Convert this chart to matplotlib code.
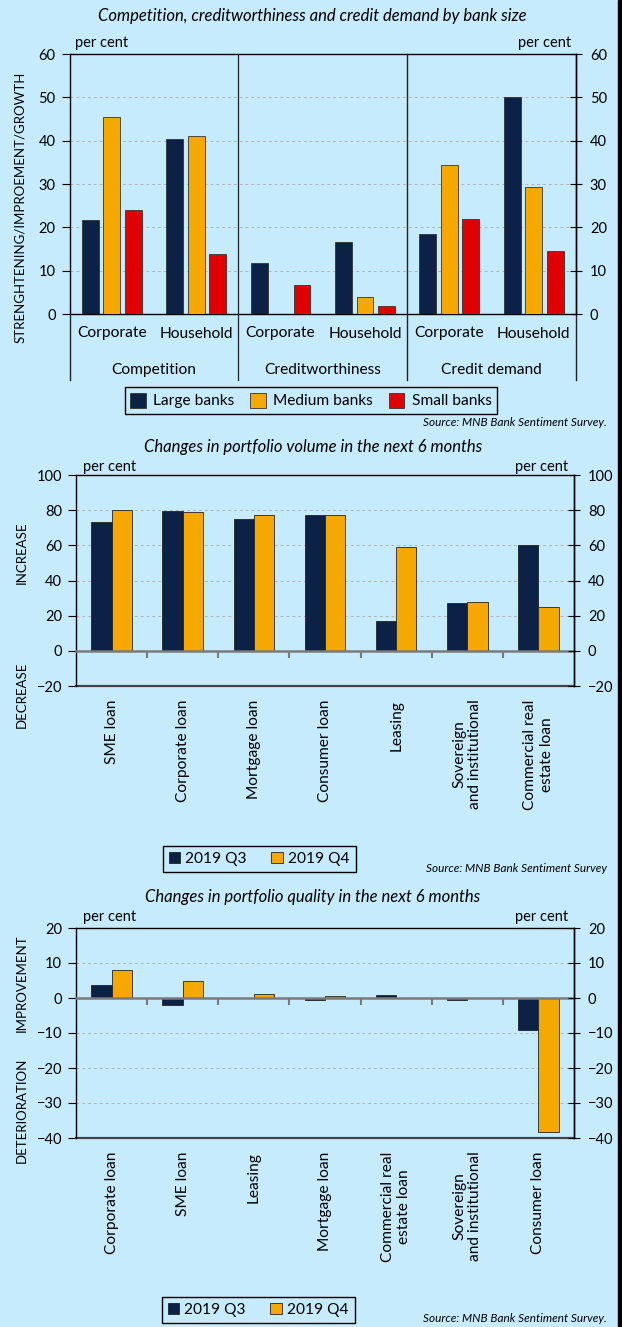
import matplotlib.pyplot as plt
import matplotlib.transforms as mtransforms
import numpy as np

plt.rcParams['font.family'] = ['Lato', 'DejaVu Sans']

# Panel 1: competition, creditworthiness, credit demand by bank size
groups = ['Competition', 'Creditworthiness', 'Credit demand']
subcats = ['Corporate', 'Household', 'Corporate', 'Household', 'Corporate', 'Household']
large_banks = [21.7, 40.3, 11.8, 16.7, 18.4, 50.0]
medium_banks = [45.5, 41.0, 0.0, 3.9, 34.4, 29.3]
small_banks = [24.0, 13.9, 6.8, 1.8, 22.0, 14.6]

# Panel 2: portfolio volume
vol_cats = ['SME loan', 'Corporate loan', 'Mortgage loan', 'Consumer loan', 'Leasing',
            'Sovereign\nand institutional', 'Commercial real\nestate loan']
vol_q3 = [73.0, 79.7, 74.8, 77.1, 16.9, 27.2, 60.0]
vol_q4 = [80.0, 78.8, 77.4, 77.4, 59.0, 27.7, 25.0]

# Panel 3: portfolio quality
qual_cats = ['Corporate loan', 'SME loan', 'Leasing', 'Mortgage loan',
             'Commercial real\nestate loan', 'Sovereign\nand institutional', 'Consumer loan']
qual_q3 = [3.7, -2.1, 0.0, -0.5, 0.8, -0.7, -9.1]
qual_q4 = [8.0, 4.8, 1.1, 0.5, 0.0, 0.0, -38.2]

BG = '#c6ebfd'
NAVY = '#0c2145'
ORANGE = '#f5a800'
RED = '#e00000'
GRID = '#b4b4b4'
FS = 10.5      # tick labels
CFS = 11.2     # category labels
TFS = 12       # titles
SFS = 8.5      # source notes

W, H = 622, 1327
fig = plt.figure(figsize=(W / 100, H / 100), dpi=100, facecolor=BG)


def px_axes(left, top, right, bottom):
    a = fig.add_axes([left / W, 1 - bottom / H, (right - left) / W, (bottom - top) / H])
    a.set_facecolor(BG)
    return a


def ftext(x, y, s, **kw):
    fig.text(x / W, 1 - y / H, s, **kw)


def right_axis(ax, ticks):
    r = ax.twinx()
    r.set_ylim(ax.get_ylim())
    r.set_yticks(ticks)
    r.tick_params(axis='y', direction='inout', length=8, labelsize=FS, pad=6)
    for s in r.spines.values():
        s.set_visible(False)
    r.spines['right'].set_visible(True)
    r.spines['right'].set_linewidth(1.0)
    return r


# ---------------- Panel 1 ----------------
ax1 = px_axes(69.5, 54, 576, 314)
x = np.arange(len(subcats))
off, bw = 0.254, 0.2
ax1.bar(x - off, large_banks, bw, color=NAVY, edgecolor='#333333', lw=0.6, label='Large banks', zorder=3)
ax1.bar(x, medium_banks, bw, color=ORANGE, edgecolor='#333333', lw=0.6, label='Medium banks', zorder=3)
ax1.bar(x + off, small_banks, bw, color=RED, edgecolor='#333333', lw=0.6, label='Small banks', zorder=3)
ax1.set_xlim(-0.5, 5.5)
ax1.set_ylim(0, 60)
ax1.set_yticks(range(0, 61, 10))
ax1.yaxis.grid(True, ls=(0, (3, 3)), color=GRID, lw=0.7)
ax1.set_axisbelow(True)
ax1.set_xticks(x, subcats)
ax1.tick_params(axis='x', length=0, labelsize=CFS, pad=9)
ax1.tick_params(axis='y', direction='out', length=6, labelsize=FS, pad=4)
for s in ax1.spines.values():
    s.set_linewidth(1.0)
right_axis(ax1, range(0, 61, 10))

trans1 = mtransforms.blended_transform_factory(ax1.transData, ax1.transAxes)
for xs in [-0.5, 1.5, 3.5, 5.5]:
    ax1.plot([xs, xs], [1 if xs in (1.5, 3.5) else 0, -0.254], transform=trans1,
             color='#222222', lw=0.9 if xs == 1.5 else 1.0, clip_on=False, zorder=4)
for i, g in enumerate(groups):
    ax1.text(2 * i + 0.5, -0.215, g, transform=trans1, ha='center', va='center', fontsize=CFS)

ftext(312, 16, 'Competition, creditworthiness and credit demand by bank size',
      ha='center', va='center', style='italic', fontsize=TFS)
ftext(75, 43, 'per cent', ha='left', va='center', fontsize=FS)
ftext(571, 43, 'per cent', ha='right', va='center', fontsize=FS)
ftext(20, 207, 'STRENGHTENING/IMPROEMENT/GROWTH', rotation=90, ha='center', va='center', fontsize=9.5)

h, l = ax1.get_legend_handles_labels()
fig.legend(h, l, loc='center', bbox_to_anchor=(311 / W, 1 - 400.5 / H), ncol=3, fontsize=CFS,
           frameon=True, fancybox=False, edgecolor='black', facecolor=BG, framealpha=1,
           handlelength=1.0, handleheight=1.1, handletextpad=0.5, columnspacing=1.0,
           borderpad=0.35)
ftext(607, 422, 'Source: MNB Bank Sentiment Survey.', ha='right', va='center',
      style='italic', fontsize=SFS)


# ---------------- Panels 2 and 3 ----------------
def q_panel(top, bottom, ylo, yhi, step, cats, q3, q4, label_top):
    ax = px_axes(76, top, 574, bottom)
    xi = np.arange(len(cats))
    bw2 = 0.285
    ax.bar(xi - bw2 / 2, q3, bw2, color=NAVY, edgecolor='#222222', lw=0.6, label='2019 Q3', zorder=3)
    ax.bar(xi + bw2 / 2, q4, bw2, color=ORANGE, edgecolor='#222222', lw=0.6, label='2019 Q4', zorder=3)
    ax.set_xlim(-0.5, len(cats) - 0.5)
    ax.set_ylim(ylo, yhi)
    ticks = list(range(ylo, yhi + 1, step))
    ax.set_yticks(ticks)
    ax.yaxis.grid(True, ls=(0, (3, 3)), color=GRID, lw=0.7)
    ax.set_axisbelow(True)
    ax.tick_params(axis='y', direction='out', length=6, labelsize=FS, pad=4)
    # zero line as the category axis, with ticks at category boundaries
    ax.spines['bottom'].set_position(('data', 0))
    ax.spines['bottom'].set_color('#7a7a7a')
    ax.spines['bottom'].set_linewidth(1.8)
    ax.spines['bottom'].set_zorder(4)
    ax.set_xticks(np.arange(0.5, len(cats) - 0.5, 1.0))
    ax.tick_params(axis='x', direction='out', length=5, width=1.5, color='#7a7a7a', labelbottom=False)
    ax.axhline(ylo, color='#444444', lw=1.6, clip_on=False)
    for k in ['left', 'right', 'top']:
        ax.spines[k].set_linewidth(1.0)
    right_axis(ax, ticks)
    trans = mtransforms.blended_transform_factory(ax.transData, ax.transAxes)
    for i, c in enumerate(cats):
        ax.text(i, label_top, c, transform=trans, rotation=90, ha='center', va='top',
                multialignment='center', fontsize=CFS, linespacing=1.2)
    return ax


legend_kw = dict(loc='center', ncol=2, fontsize=CFS, frameon=True, fancybox=False,
                 edgecolor='black', facecolor=BG, framealpha=1, handlelength=0.75,
                 handleheight=0.75, handletextpad=0.3, columnspacing=1.6, borderpad=0.4)

ax2 = q_panel(475, 686, -20, 100, 20, vol_cats, vol_q3, vol_q4, -0.065)
ftext(313, 447, 'Changes in portfolio volume in the next 6 months',
      ha='center', va='center', style='italic', fontsize=TFS)
ftext(83, 467, 'per cent', ha='left', va='center', fontsize=FS)
ftext(568, 467, 'per cent', ha='right', va='center', fontsize=FS)
ftext(22, 553, 'INCREASE', rotation=90, ha='center', va='center', fontsize=9.5)
ftext(22, 695, 'DECREASE', rotation=90, ha='center', va='center', fontsize=9.5)
h, l = ax2.get_legend_handles_labels()
fig.legend(h, l, bbox_to_anchor=(259 / W, 1 - 859 / H), **legend_kw)
ftext(607, 868, 'Source: MNB Bank Sentiment Survey', ha='right', va='center',
      style='italic', fontsize=SFS)

ax3 = q_panel(928, 1138, -40, 20, 10, qual_cats, qual_q3, qual_q4, -0.065)
ftext(313, 897, 'Changes in portfolio quality in the next 6 months',
      ha='center', va='center', style='italic', fontsize=TFS)
ftext(83, 917, 'per cent', ha='left', va='center', fontsize=FS)
ftext(568, 917, 'per cent', ha='right', va='center', fontsize=FS)
ftext(22, 983, 'IMPROVEMENT', rotation=90, ha='center', va='center', fontsize=9.5)
ftext(22, 1110, 'DETERIORATION', rotation=90, ha='center', va='center', fontsize=9.5)
h, l = ax3.get_legend_handles_labels()
fig.legend(h, l, bbox_to_anchor=(258 / W, 1 - 1310 / H), **legend_kw)
ftext(607, 1318, 'Source: MNB Bank Sentiment Survey.', ha='right', va='center',
      style='italic', fontsize=SFS)

# dark stripe on the right edge
fig.patches.append(plt.Rectangle((618 / W, 0), 4 / W, 1, transform=fig.transFigure,
                                 color='black', zorder=10))

fig.savefig('out.png', dpi=100, facecolor=BG)
